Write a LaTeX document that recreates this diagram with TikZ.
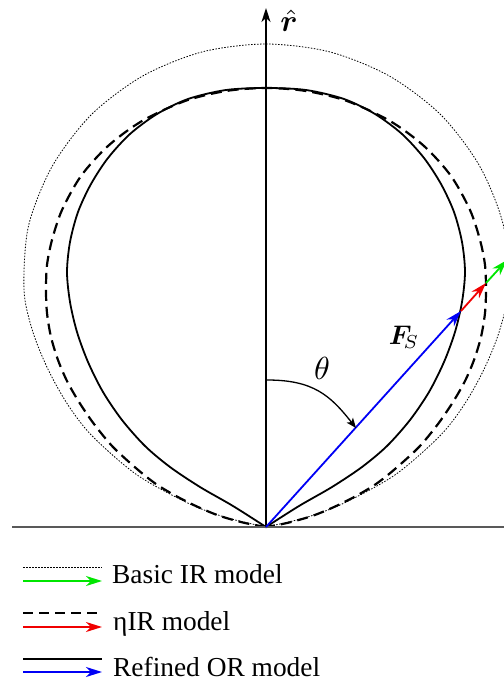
\documentclass[tikz,border=0pt]{standalone}
\usepackage{amsmath}
\usepackage{bm}
\usepackage{graphicx}
\usepackage{fontspec}
\setmainfont{Liberation Serif}
\usetikzlibrary{arrows.meta}
\definecolor{vgreen}{RGB}{0,230,0}
\definecolor{vred}{RGB}{240,0,0}
\definecolor{vblue}{RGB}{0,0,245}
\tikzset{
  solidcurve/.style={line width=1.8bp, black},
  dashcurve/.style={line width=2.2bp, black, dash pattern=on 11bp off 6bp},
  dotcurve/.style={line width=0.8bp, black, dash pattern=on 1.5bp off 1.5bp},
  vec/.style={line width=1.8bp, -{Stealth[length=16bp,width=10bp,inset=5bp]}},
  legtext/.style={anchor=base west, inner sep=0pt, font=\fontsize{27.5}{30}\selectfont},
  mathlbl/.style={inner sep=0pt},
}
\begin{document}
\begin{tikzpicture}[x=1bp,y=-1bp]
\useasboundingbox (0,0) rectangle (504,681);

% curves
\draw[dotcurve] plot[smooth] coordinates {(266,527) (225.9,517.5) (188.4,503.3) (136.7,474.7) (92.1,435.9) (67.7,404.5) (48,369.3) (32.6,331.1) (24,290) (28.4,226.3) (52.1,166.5) (91,115) (142.5,76.1) (202.2,51.9) (266,44) (329.8,51.9) (389.5,76.1) (441,115) (479.9,166.5) (503.6,226.3) (508,290) (499.4,331.1) (484,369.3) (464.3,404.5) (439.9,435.9) (395.3,474.7) (343.6,503.3) (306.1,517.5) (266,527)};
\draw[dashcurve] plot[smooth] coordinates {(266,527) (245,523) (220,516) (198,507) (176,496) (156,484) (137,469) (113,447) (94,424) (79,402) (67,381) (58,360) (51,337) (47,313) (46,290) (47,265) (52,240) (62,210) (81,176) (108,146) (142,121) (185,101) (226,91) (266,88) (306,91) (347,101) (390,121) (424,146) (451,176) (470,210) (480,240) (485,265) (486,290) (485,313) (481,337) (474,360) (465,381) (453,402) (438,424) (419,447) (395,469) (376,484) (356,496) (334,507) (312,516) (287,523) (266,527)};
\draw[solidcurve] plot[smooth] coordinates {(266,527) (233,506) (200,487) (170,467) (145,446) (122,420) (103,392) (88,362) (77,332) (70,302) (67,272) (70,242) (78,212) (91,184) (108,158) (130,134) (157,114) (188,99) (226,90) (266,88) (306,90) (344,99) (375,114) (402,134) (424,158) (441,184) (454,212) (462,242) (465,272) (462,302) (455,332) (444,362) (429,392) (410,420) (387,446) (362,467) (332,487) (299,506) (266,527)};

% ground and axis
\coordinate (gl) at (12,527);
\coordinate (gr) at (504,527);
\draw[line width=2bp, black!65] (gl) -- (gr);
\coordinate (O) at (266,527);
\coordinate (top) at (266,8);
\draw[line width=1.5bp, -{Stealth[length=14bp,width=9bp,inset=4bp]}] (O) -- (top);
\node[mathlbl] (rhat) at (289,21) {\scalebox{3.1}{$\hat{\bm{r}}$}};

% vectors
\coordinate (B) at (461,311);
\coordinate (R) at (486,283);
\coordinate (G) at (507,260);
\draw[vec, vgreen] (R) -- (G);
\draw[vec, vred] (B) -- (R);
\draw[vec, vblue] (O) -- (B);
\node[mathlbl] (Fs) at (404,337) {\scalebox{2.7}{$\bm{F}_{\!S}$}};

% theta
\coordinate (thS) at (267,380);
\coordinate (thE) at (356,428);
\draw[line width=1.3bp, -{Stealth[length=10bp,width=8bp,inset=2.5bp]}] (thS) .. controls (313,380) and (330,395) .. (thE);
\node[mathlbl] (th) at (322,368) {\scalebox{3.2}{$\theta$}};

% legend
\coordinate (l1a) at (23,567); \coordinate (l1b) at (102,567);
\coordinate (l1c) at (23,581); \coordinate (l1d) at (102,581);
\draw[dotcurve] (l1a) -- (l1b);
\draw[vec, vgreen] (l1c) -- (l1d);
\node[legtext] (leg1) at (112,583) {Basic IR model};

\coordinate (l2a) at (23,613); \coordinate (l2b) at (102,613);
\coordinate (l2c) at (23,627); \coordinate (l2d) at (102,627);
\draw[dashcurve, dash pattern=on 10bp off 6bp] (l2a) -- (l2b);
\draw[vec, vred] (l2c) -- (l2d);
\node[legtext] (leg2) at (113,630) {ηIR model};

\coordinate (l3a) at (23,659); \coordinate (l3b) at (102,659);
\coordinate (l3c) at (23,672); \coordinate (l3d) at (102,672);
\draw[solidcurve] (l3a) -- (l3b);
\draw[vec, vblue] (l3c) -- (l3d);
\node[legtext] (leg3) at (113,676) {Refined OR model};
\end{tikzpicture}
\end{document}
